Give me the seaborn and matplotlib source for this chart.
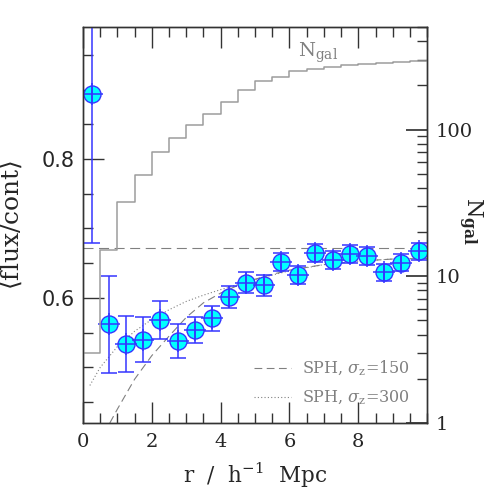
import numpy as np
import pandas as pd
import seaborn as sns
import matplotlib
matplotlib.use("Agg")
import matplotlib.pyplot as plt
from matplotlib.ticker import MultipleLocator, FixedLocator, LogLocator, NullFormatter

# measured flux decrement around galaxies
r_bin = [0.25, 0.75, 1.25, 1.75, 2.25, 2.75, 3.25, 3.75, 4.25, 4.75,
         5.25, 5.75, 6.25, 6.75, 7.25, 7.75, 8.25, 8.75, 9.25, 9.75]
flux = [0.893, 0.562, 0.534, 0.540, 0.568, 0.538, 0.554, 0.571, 0.601, 0.622,
        0.618, 0.652, 0.633, 0.665, 0.654, 0.663, 0.661, 0.637, 0.651, 0.667]
flux_err = [0.214, 0.070, 0.040, 0.032, 0.027, 0.024, 0.019, 0.018, 0.016, 0.015,
            0.0145, 0.013, 0.013, 0.013, 0.013, 0.013, 0.013, 0.012, 0.012, 0.012]

# number of galaxies (cumulative), right axis
ngal_edge = [0.0, 0.5, 1.0, 1.5, 2.0, 2.5, 3.0, 3.5, 4.0, 4.5, 5.0,
             5.5, 6.0, 6.5, 7.0, 7.5, 8.0, 8.5, 9.0, 9.5, 10.0]
ngal = [3, 15, 32, 49, 70, 87, 108, 128, 155, 187,
        213, 229, 249, 260, 265, 274, 280, 284, 289, 291, 291]

# SPH model curves
sph150_r = [0.78, 1.0, 1.5, 2.0, 2.5, 3.0, 3.5, 4.0, 4.5, 5.0, 5.5, 6.0, 7.0, 8.0, 9.0, 10.0]
sph150_f = [0.42, 0.44, 0.483, 0.517, 0.545, 0.572, 0.593, 0.607, 0.618, 0.627,
            0.634, 0.640, 0.648, 0.653, 0.656, 0.657]
sph300_r = [0.2, 0.5, 1.0, 1.5, 2.0, 2.5, 3.0, 3.5, 4.0, 4.5, 5.0, 5.5, 6.0, 7.0, 8.0, 9.0, 10.0]
sph300_f = [0.474, 0.500, 0.530, 0.552, 0.569, 0.583, 0.595, 0.604, 0.612, 0.619,
            0.626, 0.633, 0.639, 0.648, 0.653, 0.656, 0.657]
mean_level = 0.672

x_ticks = [0, 2, 4, 6, 8]

sns.set_theme(style="ticks")
plt.rcParams['font.family'] = ['DejaVu Serif']
plt.rcParams['mathtext.fontset'] = 'dejavuserif'

fig = plt.figure(figsize=(4.91, 4.91), dpi=100)
ax = fig.add_axes([0.169, 0.1385, 0.701, 0.8065])
ax2 = ax.twinx()

grey = '#808080'
blue = '#3535ff'

# N_gal step line
ax2.set_yscale('log')
sns.lineplot(x=ngal_edge, y=ngal, ax=ax2, color='#9c9c9c', lw=1.1,
             drawstyle='steps-post', estimator=None, sort=False)
ax2.set_ylim(1, 500)

# models
ax.axhline(mean_level, color=grey, lw=0.8, ls=(0, (9, 5)))
sns.lineplot(x=sph150_r, y=sph150_f, ax=ax, color=grey, lw=0.8, ls=(0, (7, 4)),
             label=r'SPH, $\sigma_{\rm z}$=150', estimator=None, sort=False)
sns.lineplot(x=sph300_r, y=sph300_f, ax=ax, color=grey, lw=0.8, ls=(0, (1, 2)),
             label=r'SPH, $\sigma_{\rm z}$=300', estimator=None, sort=False)

# data points
ax.errorbar(r_bin, flux, yerr=flux_err, fmt='none', ecolor=blue, elinewidth=1.1,
            capsize=6, capthick=1.1, zorder=4)
sns.scatterplot(x=r_bin, y=flux, ax=ax, s=150, color='#00ffff', edgecolor=blue,
                linewidth=1.0, zorder=3)
ax.plot(r_bin, flux, ls='none', marker='+', ms=16, mew=1.1, color=blue, zorder=5)

ax.set_xlim(0, 10)
ax.set_ylim(0.42, 0.99)
ax.xaxis.set_major_locator(FixedLocator(x_ticks))
ax.xaxis.set_minor_locator(MultipleLocator(0.5))
ax.yaxis.set_major_locator(FixedLocator([0.6, 0.8]))
ax.yaxis.set_minor_locator(MultipleLocator(0.05))
ax.set_yticklabels(['0.6', '0.8'])
for lbl in ax.get_yticklabels():
    lbl.set_fontfamily('DejaVu Sans')
    lbl.set_fontsize(15)

ax.tick_params(which='both', direction='in', top=True, right=False, width=1.0, color='#333333')
ax.tick_params(axis='x', which='major', length=15, labelsize=14, pad=7)
ax.tick_params(axis='y', which='major', length=15, labelsize=15, pad=6)
ax.tick_params(which='minor', length=7)

ax2.yaxis.set_major_locator(FixedLocator([1, 10, 100]))
ax2.yaxis.set_minor_locator(LogLocator(base=10, subs=np.arange(2, 10)))
ax2.yaxis.set_minor_formatter(NullFormatter())
ax2.set_yticklabels(['1', '10', '100'])
ax2.tick_params(which='both', direction='in', left=False, right=True, color='#333333')
ax2.tick_params(which='major', length=15, labelsize=14, pad=6)
ax2.tick_params(which='minor', length=7)

for a in (ax, ax2):
    for s in a.spines.values():
        s.set_color('#333333')
        s.set_linewidth(1.0)

ax.set_xlabel(r'r  /  h$^{-1}$  Mpc', fontsize=15.5)
ax.xaxis.label.set_va('baseline')
ax.xaxis.set_label_coords(0.5, -0.152)
ax.set_ylabel(r'$\langle$flux/cont$\rangle$', fontsize=18)
ax.yaxis.set_label_coords(-0.17, 0.5)
ax2.set_ylabel('')
ax2.text(1.125, 0.51, r'N$_{\mathbf{gal}}$', transform=ax.transAxes, rotation=270,
         fontsize=16, ha='center', va='center')
ax.text(0.625, 0.935, r'N$_{\rm gal}$', transform=ax.transAxes, fontsize=14,
        color=grey, ha='left', va='center')

leg = ax.legend(loc='lower right', bbox_to_anchor=(0.95, 0.04), frameon=False,
                fontsize=11.5, handlelength=2.3, handletextpad=0.7, labelspacing=0.65,
                borderpad=0, borderaxespad=0)
for t in leg.get_texts():
    t.set_color(grey)

fig.savefig('out.png', dpi=100)
